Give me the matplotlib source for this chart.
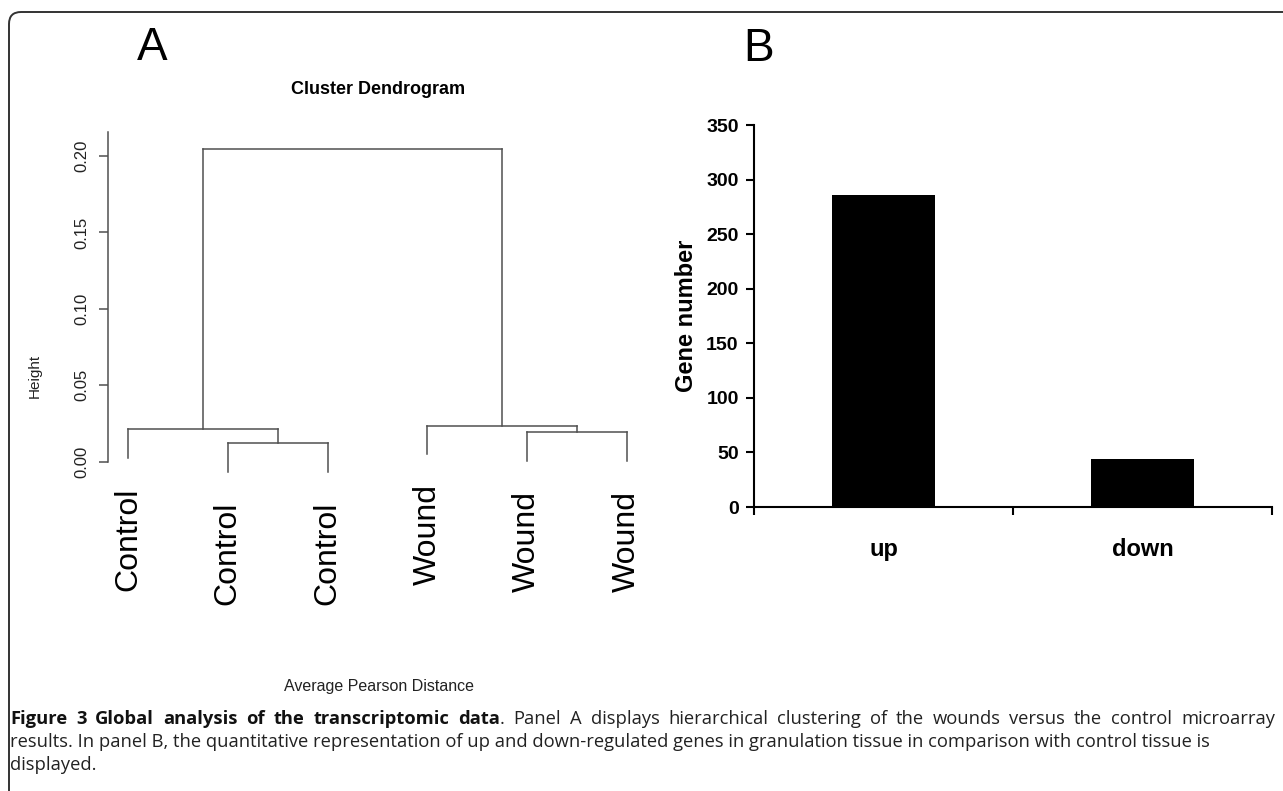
import matplotlib
matplotlib.use("Agg")
import matplotlib.pyplot as plt
from matplotlib.patches import FancyBboxPatch
from matplotlib.transforms import IdentityTransform

# panel A: dendrogram (leaves 0-5, merged nodes numbered from 6 on)
leaf_labels = ["Control", "Control", "Control", "Wound", "Wound", "Wound"]
merges = [(1, 2, 0.0122), (4, 5, 0.0194), (0, 6, 0.0214), (3, 7, 0.0237), (8, 9, 0.2045)]
height_ticks = [0.00, 0.05, 0.10, 0.15, 0.20]
height_ticklabels = ["0.00", "0.05", "0.10", "0.15", "0.20"]

# panel B: gene counts
categories = ["up", "down"]
gene_counts = [286, 44]
count_ticks = [0, 50, 100, 150, 200, 250, 300, 350]

caption_bold = "Figure 3 Global analysis of the transcriptomic data"
caption_line1 = ". Panel A displays hierarchical clustering of the wounds versus the control microarray"
caption_line2 = ("results. In panel B, the quantitative representation of up and down-regulated genes "
                 "in granulation tissue in comparison with control tissue is")
caption_line3 = "displayed."

W, H = 1283, 791
plt.rcParams["font.family"] = ["Liberation Sans", "DejaVu Sans"]
fig = plt.figure(figsize=(W / 100, H / 100), dpi=100)


def px_axes(left, top, right, bottom):
    return fig.add_axes([left / W, 1 - bottom / H, (right - left) / W, (bottom - top) / H])


# frame around the figure
frame = FancyBboxPatch((9, -60), 1400, H - 12 + 60, boxstyle="round,pad=0,rounding_size=12",
                       transform=IdentityTransform(), fill=False, edgecolor="#333333", lw=1.4)
fig.patches.append(frame)

# ---- panel A ----
grey = "#505050"
hang = 0.0188
ax = px_axes(108, 131.5, 650, 474)
x_of = {i: i + 1 for i in range(len(leaf_labels))}
y_of = {}
leaf_end = {}
for k, (a, b, h) in enumerate(merges):
    node = len(leaf_labels) + k
    for c in (a, b):
        if c < len(leaf_labels):
            y_of[c] = h - hang
            leaf_end[c] = h - hang
        ax.plot([x_of[c], x_of[c]], [y_of[c], h], color=grey, lw=1.1, clip_on=False)
    ax.plot([x_of[a], x_of[b]], [h, h], color=grey, lw=1.1, clip_on=False)
    x_of[node] = (x_of[a] + x_of[b]) / 2
    y_of[node] = h

for i, lab in enumerate(leaf_labels):
    ax.text(x_of[i], leaf_end[i] - 0.0196, lab, rotation=90, ha="center", va="top",
            fontsize=23, clip_on=False)

ax.set_xlim(0.8, 6.23)
ax.set_ylim(-0.008, 0.216)
for s in ["top", "right", "bottom"]:
    ax.spines[s].set_visible(False)
ax.spines["left"].set_bounds(0, 0.216)
ax.spines["left"].set_color(grey)
ax.spines["left"].set_linewidth(1.1)
ax.set_xticks([])
ax.set_yticks(height_ticks)
ax.set_yticklabels(height_ticklabels, rotation=90, va="center", fontsize=12, color="#222222")
ax.tick_params(axis="y", length=6.5, width=1.1, color=grey, pad=7)
ax.set_ylabel("Height", fontsize=11, color="#222222")
ax.yaxis.set_label_coords((42 - 108) / (650 - 108), (474 - 376) / (474 - 131.5))
fig.text(378 / W, 1 - 90 / H, "Cluster Dendrogram", ha="center", va="center",
         fontsize=13, fontweight="bold")
fig.text(379 / W, 1 - 687 / H, "Average Pearson Distance", ha="center", va="center",
         fontsize=11.5, color="#222222")
fig.text(152 / W, 1 - 47.5 / H, "A", ha="center", va="center", fontsize=33)

# ---- panel B ----
bx = px_axes(754, 125, 1272, 507)
bx.bar(range(len(categories)), gene_counts, width=0.4, color="black")
bx.set_xlim(-0.5, 1.5)
bx.set_ylim(0, 350)
for s in ["top", "right"]:
    bx.spines[s].set_visible(False)
for s in ["left", "bottom"]:
    bx.spines[s].set_linewidth(1.5)
bx.set_yticks(count_ticks)
bx.set_yticklabels([str(v) for v in count_ticks], fontsize=14, fontweight="bold")
bx.tick_params(axis="y", length=6, width=1.5, pad=5)
bx.set_xticks(range(len(categories)))
bx.set_xticklabels(categories, fontsize=17, fontweight="bold")
bx.set_xticks([-0.5, 0.5, 1.5], minor=True)
bx.tick_params(axis="x", which="major", length=0, pad=22)
bx.tick_params(axis="x", which="minor", length=6, width=1.5, direction="out")
bx.set_ylabel("Gene number", fontsize=17, fontweight="bold", labelpad=6)
fig.text(759 / W, 1 - 49 / H, "B", ha="center", va="center", fontsize=33)

# ---- caption ----
fig.canvas.draw()
rend = fig.canvas.get_renderer()
cap_font = ["Open Sans", "DejaVu Sans"]


def text_width(s, fs, bold=False):
    t = fig.text(0, 0, s, fontsize=fs, fontweight="bold" if bold else "normal", family=cap_font)
    w = t.get_window_extent(rend).width
    t.remove()
    return w


left_px, right_px = 10, 1275
fs1 = 10 * (right_px - left_px) / (text_width(caption_bold, 10, True) + text_width(caption_line1, 10))
fs2 = 10 * (1210 - left_px) / text_width(caption_line2, 10)
cap_fs = min(fs1, fs2)

# line 1 is justified: spread the words over the full width
pieces = [(w, True) for w in caption_bold.split()] + [(w, False) for w in caption_line1.split()]
widths = [text_width(w, cap_fs, b) for w, b in pieces]
n_gaps = sum(1 for w, b in pieces[1:] if w != ".")
gap = (right_px - left_px - sum(widths)) / n_gaps
tr = IdentityTransform()
x = left_px
for (w, b), wd in zip(pieces, widths):
    if w == ".":
        x -= gap
    fig.text(x, H - 719, w, transform=tr, fontsize=cap_fs, fontweight="bold" if b else "normal",
             family=cap_font, va="center", color="#111111" if b else "#222222")
    x += wd + gap

fig.text(left_px, H - 742, caption_line2, transform=tr, fontsize=cap_fs, family=cap_font,
         va="center", color="#222222")
fig.text(left_px, H - 765, caption_line3, transform=tr, fontsize=cap_fs, family=cap_font,
         va="center", color="#222222")

fig.savefig("out.png", dpi=100)
